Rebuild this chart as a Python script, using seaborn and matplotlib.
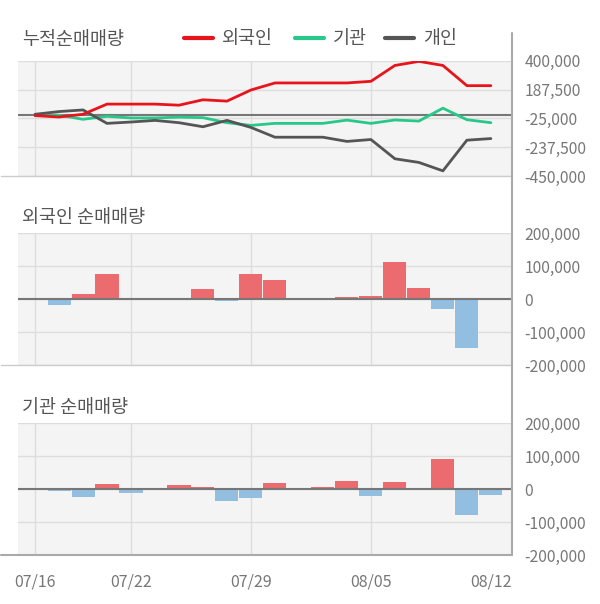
import numpy as np
import pandas as pd
import matplotlib.pyplot as plt
from matplotlib.lines import Line2D
import seaborn as sns

# trading days shown on the chart
dates = ['07/16', '07/17', '07/18', '07/19', '07/22', '07/23', '07/24', '07/25', '07/26', '07/29',
         '07/30', '07/31', '08/01', '08/02', '08/05', '08/06', '08/07', '08/08', '08/09', '08/12']
tick_days = ['07/16', '07/22', '07/29', '08/05', '08/12']

# cumulative net buying (top panel)
cum_foreign = [-5000, -15000, 5000, 80000, 80000, 80000, 72000, 112000, 102000, 184000,
               236000, 236000, 236000, 236000, 248000, 365000, 395000, 365000, 216000, 216000]
cum_inst = [0, -2000, -32000, -10000, -22000, -22000, -16000, -20000, -57000, -77000,
            -62000, -62000, -62000, -38000, -62000, -37000, -45000, 50000, -35000, -57000]
cum_indiv = [5000, 25000, 37000, -62000, -52000, -40000, -57000, -87000, -40000, -92000,
             -164000, -164000, -164000, -195000, -181000, -323000, -350000, -412000, -186000, -174000]

# daily net buying
foreign_daily = [0, -18000, 16000, 77000, 5000, 0, 0, 31000, -5000, 77000,
                 58000, 0, 0, 6000, 10000, 113000, 34000, -29000, -147000, 0]
inst_daily = [0, -7000, -25000, 16000, -13000, 0, 13000, 5500, -37000, -28000,
              19000, 0, 5500, 25000, -22000, 22000, 0, 92000, -80000, -19000]

RED, GREEN, DARK = '#E8141C', '#27C88A', '#555555'
BAR_RED, BAR_BLUE = '#EC6B6E', '#92BEE0'
BG, GRID = '#F4F4F4', '#DDDDDD'

sns.set_style('white')
plt.rcParams['font.family'] = ['Noto Sans CJK KR', 'DejaVu Sans']

W, H = 600, 604
fig = plt.figure(figsize=(6, 6.04), dpi=100)


def fx(x):
    return x / W


def fy(y):
    return 1 - y / H


def make_axes(top, bottom):
    return fig.add_axes([fx(18), fy(bottom), fx(512 - 18), (bottom - top) / H])


ax1 = make_axes(60.7, 176)
ax2 = make_axes(233.3, 365.3)
ax3 = make_axes(423.3, 555)

idx = np.arange(len(dates))
grid_idx = [dates.index(d) for d in tick_days[:-1]]
tick_idx = [dates.index(d) for d in tick_days]

df_lines = pd.DataFrame({'i': idx, '외국인': cum_foreign, '기관': cum_inst, '개인': cum_indiv})
for name, col in [('기관', GREEN), ('개인', DARK), ('외국인', RED)]:
    sns.lineplot(data=df_lines, x='i', y=name, color=col, lw=2.0, ax=ax1, zorder=4)


def bars(ax, vals):
    d = pd.DataFrame({'i': idx, 'v': vals, 's': ['p' if v >= 0 else 'n' for v in vals]})
    sns.barplot(data=d, x='i', y='v', hue='s', palette={'p': BAR_RED, 'n': BAR_BLUE},
                dodge=False, width=0.96, saturation=1, legend=False, ax=ax,
                zorder=2, linewidth=0)


bars(ax2, foreign_daily)
bars(ax3, inst_daily)

yt1 = [400000, 187500, -25000, -237500, -450000]
yt2 = [200000, 100000, 0, -100000, -200000]
for ax, yt, lim in [(ax1, yt1, (-450000, 400000)), (ax2, yt2, (-200000, 200000)),
                    (ax3, yt2, (-200000, 200000))]:
    ax.set_facecolor(BG)
    ax.set_xlim(-0.71, 19.88)
    ax.set_ylim(*lim)
    for s in ax.spines.values():
        s.set_visible(False)
    for v in yt:
        ax.axhline(v, color=GRID, lw=1, zorder=1)
    for g in grid_idx:
        ax.axvline(g, color=GRID, lw=1, zorder=1)
    ax.axhline(0, color='#777777', lw=1.5, zorder=3)
    ax.yaxis.tick_right()
    ax.set_yticks(yt)
    ax.set_yticklabels([f'{v:,}' for v in yt], color='#777777', fontsize=11.3)
    ax.tick_params(axis='y', length=0, pad=9)
    ax.set_xlabel('')
    ax.set_ylabel('')
    ax.set_xticks([])

ax3.set_xticks(tick_idx)
ax3.set_xticklabels(tick_days, color='#777777', fontsize=11.5)
ax3.tick_params(axis='x', length=0, pad=13)

# frame lines
for y, c, lw in [(176, '#CCCCCC', 1), (365.3, '#CCCCCC', 1), (555, '#AAAAAA', 1.5)]:
    fig.add_artist(Line2D([fx(1), fx(512)], [fy(y), fy(y)], color=c, lw=lw))
fig.add_artist(Line2D([fx(512), fx(512)], [fy(33), fy(555)], color='#AAAAAA', lw=1.5))

# titles
tkw = dict(color='#555555', fontsize=13.3, va='center', ha='left')
fig.text(fx(22), fy(40), '누적순매매량', **tkw)
fig.text(fx(22), fy(218), '외국인 순매매량', **tkw)
fig.text(fx(22), fy(408), '기관 순매매량', **tkw)

# legend
for x0, col, lab in [(184, RED, '외국인'), (295, GREEN, '기관'), (385, DARK, '개인')]:
    fig.add_artist(Line2D([fx(x0), fx(x0 + 29)], [fy(38), fy(38)], color=col, lw=3))
    fig.text(fx(x0 + 38), fy(39), lab, **tkw)

fig.savefig('out.png', dpi=100)
